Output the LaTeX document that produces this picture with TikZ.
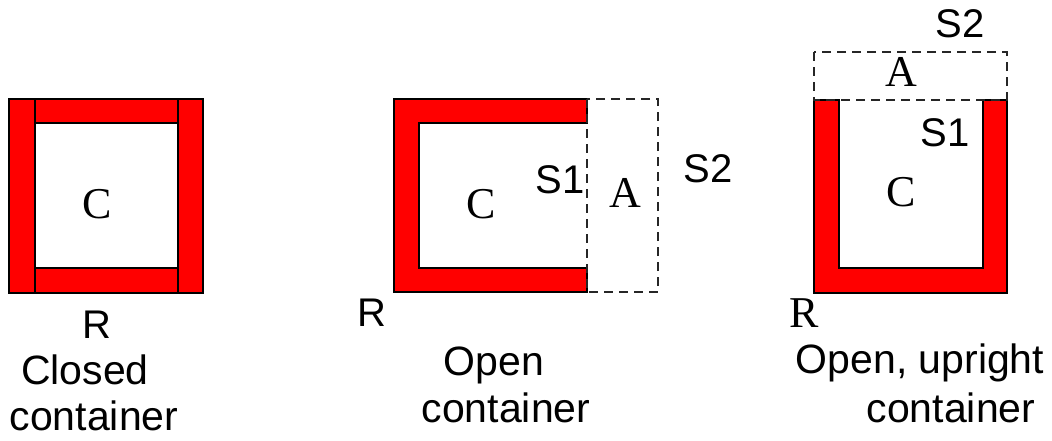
\documentclass[tikz,border=0pt]{standalone}
\usepackage{fontspec}
\setmainfont{Liberation Sans}
\newfontfamily\seriffam{Liberation Serif}
\begin{document}
\begin{tikzpicture}[x=1pt,y=-1pt,
  wall/.style={fill=red,draw=black,line width=1.5pt,line join=miter},
  gap/.style={draw=black!85,line width=1.7pt,dash pattern=on 9pt off 6pt},
  sanslbl/.style={anchor=base,inner sep=0pt,font=\fontsize{40}{48}\selectfont},
  seriflbl/.style={anchor=base,inner sep=0pt,font=\seriffam\fontsize{44}{50}\selectfont},
  caption/.style={anchor=base,inner sep=0pt,font=\fontsize{41}{50}\selectfont}]
\useasboundingbox (0,0) rectangle (1052,440);
% Closed container
\draw[wall] (9,99) rectangle (35,293);
\draw[wall] (178,99) rectangle (203,293);
\draw[wall] (35,99) rectangle (178,123);
\draw[wall] (35,268) rectangle (178,293);
\node[seriflbl] (c1) at (97,218) {C};
\node[sanslbl] (r1) at (97,338) {R};
\node[caption] (l1a) at (85,384) {Closed};
\node[caption] (l1b) at (94,430) {container};
% Open container
\draw[wall] (394,99) -- (587,99) -- (587,123) -- (419,123) -- (419,268) -- (587,268) -- (587,292) -- (394,292) -- cycle;
\draw[gap] (587,99) rectangle (658,292);
\node[seriflbl] (c2) at (481,218) {C};
\node[seriflbl] (a2) at (625,207) {A};
\node[sanslbl] (s12) at (560,193) {S1};
\node[sanslbl] (s22) at (708,182) {S2};
\node[sanslbl] (r2) at (372,326) {R};
\node[caption] (l2a) at (494,375) {Open};
\node[caption] (l2b) at (506,422) {container};
% Open, upright container
\draw[wall] (814,100) -- (839,100) -- (839,268) -- (983,268) -- (983,100) -- (1007,100) -- (1007,293) -- (814,293) -- cycle;
\draw[gap] (814,52) rectangle (1007,100);
\node[seriflbl] (c3) at (901,206) {C};
\node[seriflbl] (a3) at (901,86) {A};
\node[sanslbl] (s13) at (945,146) {S1};
\node[sanslbl] (s23) at (960,37) {S2};
\node[seriflbl] (r3) at (804,327) {R};
\node[caption] (l3a) at (920,373) {Open, upright};
\node[caption] (l3b) at (951,422) {container};
\end{tikzpicture}
\end{document}
